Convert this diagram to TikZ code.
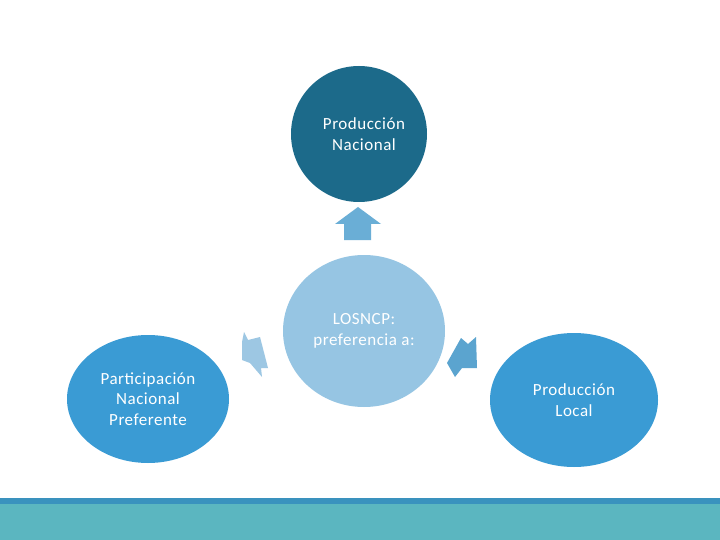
\documentclass[tikz,border=0pt]{standalone}
\usepackage{fontspec}
\setmainfont[LetterSpace=3]{Carlito}
\usepackage{xcolor}
\usepackage{tikz}
\usetikzlibrary{shapes.geometric}
\definecolor{navyx}{HTML}{1C6A8A}
\definecolor{palex}{HTML}{96C5E3}
\definecolor{bluex}{HTML}{3A9BD4}
\definecolor{arrowup}{HTML}{6AAED6}
\definecolor{arrowlt}{HTML}{9DC7E3}
\definecolor{arrowrt}{HTML}{5BA4CF}
\definecolor{barx}{HTML}{3A92BE}
\definecolor{tealx}{HTML}{5BB6C0}
\tikzset{
  bub/.style={ellipse,inner sep=2pt,align=center,text=white,
    font=\fontsize{17}{20.5}\selectfont},
  blk/.style={draw=none}
}

\begin{document}
\begin{tikzpicture}[x=1pt,y=-1pt]
\useasboundingbox (0,0) rectangle (720,540);
\fill[white] (0,0) rectangle (720,540);
% bottom band
\fill[barx] (0,498) rectangle (720,504);
\fill[tealx] (0,504) rectangle (720,540);
% bubbles
\node[bub,fill=navyx,minimum width=136pt,minimum height=136pt] (nac) at (359,134) {\hspace*{10pt}Producción\\\hspace*{10pt}Nacional};
\node[bub,fill=palex,minimum width=162pt,minimum height=152pt] (los) at (364,331) {LOSNCP:\\preferencia a:};
\node[bub,fill=bluex,minimum width=162pt,minimum height=128pt] (part) at (148,399) {Participación\\Nacional\\Preferente};
\node[bub,fill=bluex,minimum width=168pt,minimum height=134pt] (loc) at (574,400) {Producción\\Local};
% block arrows
\fill[arrowup] (358,207) -- (381,224) -- (371,224) -- (371,240) -- (344,240) -- (344,224) -- (335,224) -- cycle;
\fill[arrowlt] (244,332) -- (248,340) -- (260,337) -- (268,368) -- (261,368) -- (262,377) -- (250,363) -- (242,360) -- (242,342) -- cycle;
\fill[arrowrt] (461,338) -- (468,344) -- (476,337) -- (477,368) -- (462,368) -- (455,377) -- (447,363) -- cycle;
\end{tikzpicture}
\end{document}
